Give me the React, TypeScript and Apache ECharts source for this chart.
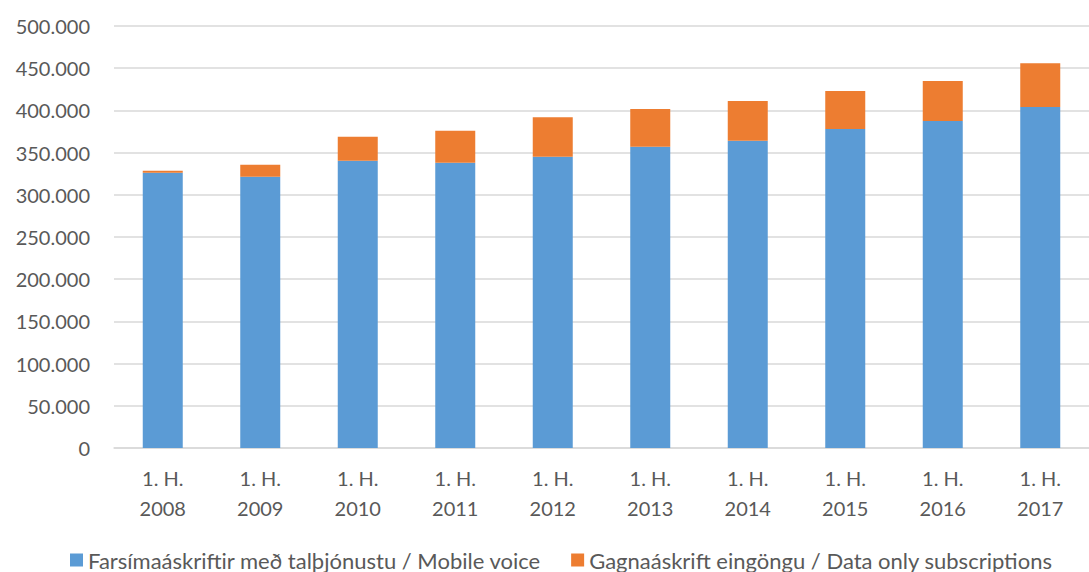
import React, { useEffect, useRef } from "react";
import * as echarts from "echarts";

const categories = ["1. H.\n2008", "1. H.\n2009", "1. H.\n2010", "1. H.\n2011", "1. H.\n2012", "1. H.\n2013", "1. H.\n2014", "1. H.\n2015", "1. H.\n2016", "1. H.\n2017"];
const mobileVoice = [326000, 321500, 340400, 338000, 345000, 357000, 364000, 378000, 387400, 404000];
const dataOnly = [2500, 14200, 28400, 38000, 47000, 44700, 47000, 45000, 47400, 52000];
const seriesNames = ["Farsímaáskriftir með talþjónustu / Mobile voice", "Gagnaáskrift eingöngu / Data only subscriptions"];

const fmt = (v: number) => String(v).replace(/\B(?=(\d{3})+(?!\d))/g, ".");

export default function App() {
  const ref = useRef<HTMLDivElement>(null);
  useEffect(() => {
    if (!ref.current) return;
    const chart = echarts.init(ref.current, undefined, { renderer: "svg" });
    const font = "Lato, 'Open Sans', sans-serif";
    chart.setOption({
      animation: false,
      textStyle: { fontFamily: font },
      grid: { left: 114, top: 26, width: 985, bottom: 124, containLabel: false },
      legend: {
        top: 548,
        left: 70,
        padding: 0,
        itemWidth: 13,
        itemHeight: 13,
        itemGap: 30,
        icon: "rect",
        textStyle: { fontSize: 22, lineHeight: 24, color: "#595959", fontFamily: font },
        data: seriesNames,
      },
      xAxis: {
        type: "category",
        data: categories,
        axisLine: { lineStyle: { color: "#d9d9d9", width: 1.5 } },
        axisTick: { show: false },
        axisLabel: { fontSize: 20, color: "#595959", lineHeight: 30, margin: 15, fontFamily: font },
      },
      yAxis: {
        type: "value",
        min: 0,
        max: 500000,
        interval: 50000,
        axisLine: { show: false },
        axisTick: { show: false },
        splitLine: { lineStyle: { color: "#d9d9d9", width: 1.5 } },
        axisLabel: { fontSize: 20, color: "#595959", margin: 24, fontFamily: font, formatter: (v: number) => fmt(v) },
      },
      series: [
        { name: seriesNames[0], type: "bar", stack: "a", data: mobileVoice, barWidth: 40, itemStyle: { color: "#5B9BD5" } },
        { name: seriesNames[1], type: "bar", stack: "a", data: dataOnly, barWidth: 40, itemStyle: { color: "#ED7D31" } },
      ],
    });
    return () => chart.dispose();
  }, []);
  return <div ref={ref} style={{ position: "fixed", left: 0, top: 0, width: 1089, height: 572, background: "#fff" }} />;
}
